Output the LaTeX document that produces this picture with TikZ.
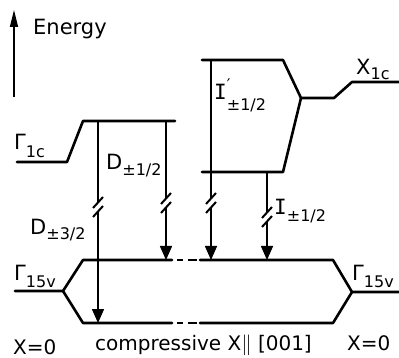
\documentclass[tikz,border=0pt]{standalone}
\usepackage{fontspec}
\setmainfont{DejaVu Sans}
\newfontfamily\monof{DejaVu Sans Mono}
\usetikzlibrary{arrows.meta,calc}
\newcommand{\mainsz}{\fontsize{21}{21}\selectfont}
\newcommand{\botsz}{\fontsize{20}{20}\selectfont}
\newcommand{\subsz}{\fontsize{16}{16}\selectfont}
\newcommand{\lbl}[3]{{\mainsz #1}\raisebox{-#3pt}{\subsz #2}}
\newcommand{\trn}[5]{% name, x, ytop, ybreak, ybottom
  \coordinate (#1t) at (#2,#3);
  \coordinate (#1u) at (#2,#4-4.5);
  \coordinate (#1v) at (#2,#4+4.5);
  \coordinate (#1b) at (#2,#5);
  \draw[trans] (#1t) -- (#1u);
  \draw[trans,tip] (#1v) -- (#1b);
  \draw[slash] ($(#1u)+(-5,5.5)$) -- ($(#1u)+(5,-5.5)$);
  \draw[slash] ($(#1v)+(-5,5.5)$) -- ($(#1v)+(5,-5.5)$);
}
\begin{document}
\begin{tikzpicture}[x=1pt,y=-1pt,
  level/.style={line width=2.6pt,line join=round,line cap=round},
  trans/.style={line width=1.5pt},
  slash/.style={line width=2pt},
  tip/.style={-{Triangle[length=14pt,width=12pt]}},
  lab/.style={inner sep=0pt,anchor=base west}]
\useasboundingbox (0,0) rectangle (399,358);
% energy axis
\coordinate (e0) at (14,97);
\coordinate (e1) at (14,10);
\draw[line width=1.6pt,-{Triangle[length=17pt,width=8pt]}] (e0) -- (e1);
\node[lab] (en) at (33,35) {\mainsz Energy};
% Gamma_1c
\coordinate (g1a) at (17,162);
\coordinate (g1b) at (67,162);
\coordinate (g1c) at (83,121);
\coordinate (g1d) at (175,121);
\draw[level] (g1a) -- (g1b) -- (g1c) -- (g1d);
\node[lab] (g1l) at (14,150) {\lbl{Γ}{1c}{8}};
% X_1c box
\coordinate (xa) at (202,60);
\coordinate (xb) at (283,60);
\coordinate (xc) at (301,98);
\coordinate (xd) at (334,98);
\coordinate (xe) at (352,82);
\coordinate (xf) at (399,82);
\coordinate (xg) at (283,172);
\coordinate (xh) at (202,172);
\draw[level] (xa) -- (xb) -- (xc) -- (xd) -- (xe) -- (xf);
\draw[level] (xc) -- (xg) -- (xh);
\node[lab] (x1l) at (356,75) {\lbl{X}{1c}{5}};
% Gamma_15v
\coordinate (va) at (15,291);
\coordinate (vb) at (63,291);
\coordinate (vc) at (83,260);
\coordinate (vd) at (172,260);
\coordinate (ve) at (200,260);
\coordinate (vf) at (333,260);
\coordinate (vg) at (352,292);
\coordinate (vh) at (399,292);
\coordinate (vi) at (83,323);
\coordinate (vj) at (172,323);
\coordinate (vk) at (200,323);
\coordinate (vl) at (333,323);
\draw[level] (va) -- (vb) -- (vc) -- (vd);
\draw[level] (vb) -- (vi) -- (vj);
\draw[level] (ve) -- (vf) -- (vg) -- (vh);
\draw[level] (vk) -- (vl) -- (vg);
\foreach \y in {260,323}{
  \draw[line width=2.6pt] (177,\y) -- (183,\y);
  \draw[line width=2.6pt] (188,\y) -- (197,\y);
}
\node[lab] (gvl) at (14,280) {\lbl{Γ}{15v}{7}};
\node[lab] (gvr) at (352,280) {\lbl{Γ}{15v}{7}};
% transitions
\trn{d3}{98}{121}{207}{323}
\trn{d1}{166}{121}{203}{260}
\trn{ip}{211}{60}{203}{260}
\trn{ii}{267}{172}{217}{260}
\node[lab] (d1l) at (106,170) {\lbl{D}{±1/2}{6}};
\node[lab] (d3l) at (30,235) {\lbl{D}{±3/2}{5}};
\node[lab] (ipl) at (214,100) {{\mainsz\monof I}\makebox[0pt][l]{\raisebox{9pt}{\subsz ′}}\raisebox{-11pt}{\subsz ±1/2}};
\node[lab] (iil) at (274,215) {\lbl{\monof I}{±1/2}{6}};
% bottom
\node[lab] (b1) at (13,354) {\botsz X=0};
\node[lab] (b2) at (95,350) {\botsz compressive X$\parallel$ [001]};
\node[lab] (b3) at (347,350) {\botsz X=0};
\end{tikzpicture}
\end{document}
